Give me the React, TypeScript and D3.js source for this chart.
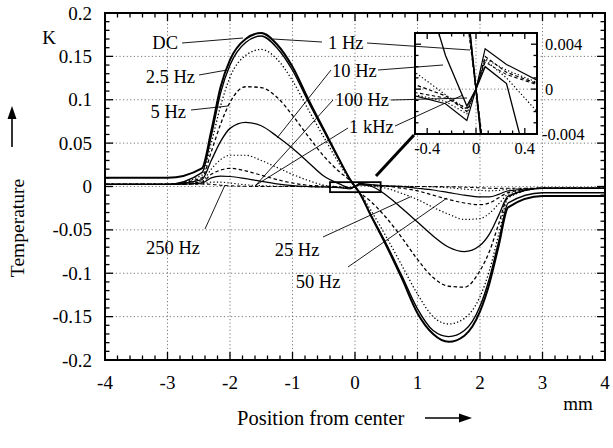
import React from 'react';
import * as d3 from 'd3';

// ---------- data ----------
const positions = [-4, -3, -2.45, -2.3, -2.15, -2, -1.75, -1.5, -1.25, -1, -0.75, -0.5, -0.25, -0.075, 0, 0.075, 0.25, 0.5, 0.75, 1, 1.25, 1.5, 1.75, 2, 2.15, 2.3, 2.45, 3, 4];

const tDC = [0.010, 0.010, 0.021, 0.064, 0.115, 0.146, 0.170, 0.177, 0.164, 0.138, 0.101, 0.066, 0.031, 0.0078, 0, -0.0078, -0.033, -0.068, -0.106, -0.146, -0.170, -0.179, -0.172, -0.144, -0.112, -0.068, -0.024, -0.011, -0.011];
const t1Hz = [0.0025, 0.0025, 0.016, 0.058, 0.108, 0.140, 0.166, 0.1735, 0.160, 0.134, 0.098, 0.064, 0.030, 0.0075, 0, -0.0075, -0.032, -0.066, -0.103, -0.141, -0.166, -0.173, -0.166, -0.138, -0.106, -0.063, -0.019, -0.0072, -0.0072];
const t2p5Hz = [0.0025, 0.0025, 0.013, 0.050, 0.093, 0.126, 0.151, 0.158, 0.147, 0.122, 0.089, 0.057, 0.026, 0.007, 0, -0.007, -0.027, -0.058, -0.091, -0.124, -0.150, -0.1585, -0.152, -0.127, -0.097, -0.055, -0.013, -0.002, -0.002];
const t5Hz = [0.0025, 0.0025, 0.010, 0.040, 0.072, 0.097, 0.115, 0.114, 0.103, 0.082, 0.058, 0.035, 0.017, 0.0065, 0, -0.0065, -0.017, -0.036, -0.059, -0.084, -0.105, -0.115, -0.116, -0.097, -0.075, -0.043, -0.012, -0.002, -0.002];
const t10Hz = [0.0025, 0.0025, 0.008, 0.030, 0.052, 0.067, 0.074, 0.070, 0.058, 0.044, 0.028, 0.012, 0.003, -0.0015, 0, 0.002, 0.0005, -0.010, -0.025, -0.041, -0.057, -0.070, -0.075, -0.068, -0.055, -0.033, -0.011, -0.002, -0.002];
const t25Hz = [0.0025, 0.0025, 0.006, 0.020, 0.031, 0.036, 0.036, 0.030, 0.022, 0.014, 0.007, 0.0015, -0.0005, -0.0018, 0, 0.0026, 0.001, -0.002, -0.008, -0.015, -0.024, -0.032, -0.038, -0.037, -0.031, -0.020, -0.009, -0.002, -0.002];
const t50Hz = [0.0025, 0.0025, 0.005, 0.014, 0.019, 0.021, 0.018, 0.013, 0.008, 0.004, 0.0015, 0.0004, -0.0006, -0.002, 0, 0.0029, 0.0015, 0.0005, -0.002, -0.005, -0.010, -0.015, -0.019, -0.021, -0.019, -0.013, -0.007, -0.002, -0.002];
const t100Hz = [0.0025, 0.0025, 0.004, 0.010, 0.012, 0.0115, 0.009, 0.006, 0.003, 0.001, 0, -0.0006, -0.0013, -0.0028, 0, 0.0036, 0.0022, 0.0008, -0.0002, -0.002, -0.004, -0.007, -0.010, -0.012, -0.012, -0.009, -0.005, -0.002, -0.002];
const t250Hz = [0.0025, 0.0025, 0.003, 0.005, 0.005, 0.004, 0.002, 0.001, 0.0003, 0, -0.0002, -0.0005, -0.0011, -0.0022, 0, 0.0027, 0.0017, 0.0006, 0.0002, 0, -0.0005, -0.0015, -0.003, -0.0045, -0.005, -0.0045, -0.003, -0.002, -0.002];
const t1kHz = [0.0025, 0.0025, 0.0028, 0.0025, 0.0015, 0.0008, 0.0003, 0.0001, 0, 0, -0.0001, -0.0003, -0.0008, -0.0017, 0, 0.0024, 0.0013, 0.0004, 0.0001, 0, -0.0001, -0.0003, -0.0008, -0.0015, -0.002, -0.0022, -0.002, -0.002, -0.002];

const seriesNames = ['DC', '1 Hz', '2.5 Hz', '5 Hz', '10 Hz', '25 Hz', '50 Hz', '100 Hz', '250 Hz', '1 kHz'];
const seriesValues = [tDC, t1Hz, t2p5Hz, t5Hz, t10Hz, t25Hz, t50Hz, t100Hz, t250Hz, t1kHz];

const xTickValues = [-4, -3, -2, -1, 0, 1, 2, 3, 4];
const xTickLabels = ['-4', '-3', '-2', '-1', '0', '1', '2', '3', '4'];
const yTickValues = [0.2, 0.15, 0.1, 0.05, 0, -0.05, -0.1, -0.15, -0.2];
const yTickLabels = ['0.2', '0.15', '0.1', '0.05', '0', '-0.05', '-0.1', '-0.15', '-0.2'];
const insetXTickValues = [-0.4, 0, 0.4];
const insetXTickLabels = ['-0.4', '0', '0.4'];
const insetYTickValues = [0.004, 0, -0.004];
const insetYTickLabels = ['0.004', '0', '-0.004'];

// ---------- styles / layout ----------
const styleFor = [
  { w: 2.0, dash: null },
  { w: 1.4, dash: null },
  { w: 1.3, dash: '1.3,2.2' },
  { w: 1.3, dash: '3.5,2.5' },
  { w: 1.3, dash: null },
  { w: 1.2, dash: '1.3,2.2' },
  { w: 1.2, dash: '3.5,2.5' },
  { w: 1.2, dash: null },
  { w: 1.1, dash: '1.3,2.2' },
  { w: 1.1, dash: '3.5,2.5' },
];

const W = 613, H = 448;
const M = { left: 105, right: 605, top: 13, bottom: 360 };
const INS = { left: 415, right: 537, top: 33, bottom: 134 };
const FONT = "'Liberation Serif', 'Times New Roman', 'DejaVu Serif', serif";

const annotations = [
  { text: 'DC', x: 178, y: 43, anchor: 'end', leaders: [[182, 43, 243, 38]] },
  { text: '1 Hz', x: 328, y: 43, anchor: 'start', leaders: [[322, 42, 273, 39], [367, 43, 470, 50]] },
  { text: '2.5 Hz', x: 195, y: 77, anchor: 'end', leaders: [[199, 75, 227, 70]] },
  { text: '5 Hz', x: 186, y: 112, anchor: 'end', leaders: [[191, 110, 228, 106]] },
  { text: '10 Hz', x: 332, y: 71, anchor: 'start', leaders: [[331, 70, 277, 138], [378, 70, 443, 65]] },
  { text: '100 Hz', x: 335, y: 100, anchor: 'start', leaders: [[333, 100, 256, 185], [391, 100, 467, 98]] },
  { text: '1 kHz', x: 349, y: 127, anchor: 'start', leaders: [[348, 128, 256, 185], [395, 126, 463, 95]] },
  { text: '250 Hz', x: 173, y: 248, anchor: 'middle', leaders: [[205, 229, 225, 185]] },
  { text: '25 Hz', x: 297, y: 250, anchor: 'middle', leaders: [[323, 237, 410, 197]] },
  { text: '50 Hz', x: 318, y: 282, anchor: 'middle', leaders: [[348, 267, 447, 198]] },
];

export default function App() {
  const x = d3.scaleLinear().domain([-4, 4]).range([M.left, M.right]);
  const y = d3.scaleLinear().domain([-0.2, 0.2]).range([M.bottom, M.top]);
  const xi = d3.scaleLinear().domain([-0.5, 0.5]).range([INS.left, INS.right]);
  const yi = d3.scaleLinear().domain([-0.004, 0.005]).range([INS.bottom, INS.top]);

  const mainLine = d3.line<[number, number]>().x(d => x(d[0])).y(d => y(d[1])).curve(d3.curveMonotoneX);
  const insetLine = d3.line<[number, number]>().x(d => xi(d[0])).y(d => yi(d[1]));

  const pts = (vals: number[]) => positions.map((p, i) => [p, vals[i]] as [number, number]);
  const order = [9, 8, 7, 6, 5, 4, 3, 2, 1, 0];

  const xMinor = d3.range(-4, 4.0001, 0.2);
  const yMinor = d3.range(-0.2, 0.20001, 0.01);
  const ixMinor = d3.range(-0.5, 0.50001, 0.1);
  const iyMinor = d3.range(-0.004, 0.005001, 0.001);
  const isMajor = (v: number, arr: number[], eps: number) => arr.some(a => Math.abs(a - v) < eps);

  const tickLines: any[] = [];
  xMinor.forEach((v, i) => {
    const L = isMajor(v, xTickValues, 1e-6) ? 8 : 4.5;
    const px = x(v);
    tickLines.push(<line key={'xb' + i} x1={px} x2={px} y1={M.bottom} y2={M.bottom - L} />);
    tickLines.push(<line key={'xt' + i} x1={px} x2={px} y1={M.top} y2={M.top + L} />);
  });
  yMinor.forEach((v, i) => {
    const L = isMajor(v, yTickValues, 1e-6) ? 8 : 4.5;
    const py = y(v);
    tickLines.push(<line key={'yl' + i} x1={M.left} x2={M.left + L} y1={py} y2={py} />);
    tickLines.push(<line key={'yr' + i} x1={M.right} x2={M.right - L} y1={py} y2={py} />);
  });
  const insetTicks: any[] = [];
  ixMinor.forEach((v, i) => {
    const L = isMajor(v, insetXTickValues, 1e-6) ? 6 : 3.5;
    const px = xi(v);
    insetTicks.push(<line key={'ixb' + i} x1={px} x2={px} y1={INS.bottom} y2={INS.bottom - L} />);
    insetTicks.push(<line key={'ixt' + i} x1={px} x2={px} y1={INS.top} y2={INS.top + L} />);
  });
  iyMinor.forEach((v, i) => {
    const L = isMajor(v, insetYTickValues, 1e-7) ? 6 : 3.5;
    const py = yi(v);
    insetTicks.push(<line key={'iyl' + i} x1={INS.left} x2={INS.left + L} y1={py} y2={py} />);
    insetTicks.push(<line key={'iyr' + i} x1={INS.right} x2={INS.right - L} y1={py} y2={py} />);
  });

  const textStyle = { fontFamily: FONT };

  return (
    <svg width={W} height={H} style={{ position: 'absolute', left: 0, top: 0, background: '#fff', fontFamily: FONT }}>
      <defs>
        <clipPath id="mainClip"><rect x={M.left} y={M.top} width={M.right - M.left} height={M.bottom - M.top} /></clipPath>
        <clipPath id="insetClip"><rect x={INS.left} y={INS.top} width={INS.right - INS.left} height={INS.bottom - INS.top} /></clipPath>
      </defs>
      <rect x={0} y={0} width={W} height={H} fill="#fff" />

      {/* grid */}
      <g stroke="#777" strokeWidth={1} strokeDasharray="1.2,2.4">
        {xTickValues.slice(1, -1).map(v => <line key={'gx' + v} x1={x(v)} x2={x(v)} y1={M.top} y2={M.bottom} />)}
        {yTickValues.slice(1, -1).map(v => <line key={'gy' + v} x1={M.left} x2={M.right} y1={y(v)} y2={y(v)} />)}
      </g>

      {/* curves */}
      <g clipPath="url(#mainClip)" fill="none" stroke="#000">
        {order.map(k => (
          <path key={'c' + k} d={mainLine(pts(seriesValues[k])) || ''} strokeWidth={styleFor[k].w}
            strokeDasharray={styleFor[k].dash || undefined} />
        ))}
      </g>

      {/* zoom box and connector */}
      <rect x={x(-0.4)} y={y(0.005)} width={x(0.41) - x(-0.4)} height={y(-0.0065) - y(0.005)} fill="none" stroke="#000" strokeWidth={1.8} />
      <line x1={376} y1={176} x2={INS.left - 1} y2={INS.bottom + 1} stroke="#000" strokeWidth={3} />

      {/* axes frame & ticks */}
      <g stroke="#000" strokeWidth={1.3}>{tickLines}</g>
      <rect x={M.left} y={M.top} width={M.right - M.left} height={M.bottom - M.top} fill="none" stroke="#000" strokeWidth={2} />

      {/* inset */}
      <rect x={INS.left} y={INS.top} width={INS.right - INS.left} height={INS.bottom - INS.top} fill="#fff" />
      <g stroke="#777" strokeWidth={1} strokeDasharray="1.2,2.4">
        <line x1={xi(0)} x2={xi(0)} y1={INS.top} y2={INS.bottom} />
        <line x1={INS.left} x2={INS.right} y1={yi(0)} y2={yi(0)} />
      </g>
      <g clipPath="url(#insetClip)" fill="none" stroke="#000">
        {order.map(k => (
          <path key={'ic' + k} d={insetLine(pts(seriesValues[k])) || ''} strokeWidth={k < 2 ? 1.5 : styleFor[k].w}
            strokeDasharray={styleFor[k].dash || undefined} />
        ))}
      </g>

      {/* annotations */}
      <g stroke="#000" strokeWidth={0.9}>
        {annotations.flatMap((a, i) => a.leaders.map((l, j) => (
          <line key={'ld' + i + '-' + j} x1={l[0]} y1={l[1]} x2={l[2]} y2={l[3]} />
        )))}
      </g>
      <g stroke="#000" strokeWidth={1.3}>{insetTicks}</g>
      <rect x={INS.left} y={INS.top} width={INS.right - INS.left} height={INS.bottom - INS.top} fill="none" stroke="#000" strokeWidth={2} />

      <g fontSize={18.5} fill="#000" style={textStyle}>
        {annotations.map((a, i) => (
          <text key={'at' + i} x={a.x} y={a.y} textAnchor={a.anchor as any} dominantBaseline="central" style={textStyle}>{a.text}</text>
        ))}
      </g>

      {/* inset tick labels */}
      <g fontSize={16.5} fill="#000" style={textStyle}>
        {insetXTickValues.map((v, i) => (
          <text key={'ixl' + i} x={xi(v)} y={INS.bottom + 14} textAnchor="middle" dominantBaseline="central" style={textStyle}>{insetXTickLabels[i]}</text>
        ))}
        {insetYTickValues.map((v, i) => (
          <text key={'iyl' + i} x={INS.right + (v < 0 ? 5 : 8)} y={yi(v)} textAnchor="start" dominantBaseline="central" style={textStyle}>{insetYTickLabels[i]}</text>
        ))}
      </g>

      {/* main tick labels */}
      <g fontSize={19} fill="#000" style={textStyle}>
        {xTickValues.map((v, i) => (
          <text key={'xl' + i} x={x(v)} y={M.bottom + 22} textAnchor="middle" dominantBaseline="central" style={textStyle}>{xTickLabels[i]}</text>
        ))}
        {yTickValues.map((v, i) => (
          <text key={'yl' + i} x={M.left - 13} y={y(v)} textAnchor="end" dominantBaseline="central" style={textStyle}>{yTickLabels[i]}</text>
        ))}
        <text x={49} y={37} textAnchor="middle" dominantBaseline="central" style={textStyle}>K</text>
        <text x={578} y={403} textAnchor="middle" dominantBaseline="central" style={textStyle}>mm</text>
        <text x={237} y={418} textAnchor="start" dominantBaseline="central" style={{ fontFamily: FONT, fontSize: 20.5 }}>Position from center</text>
        <text transform="translate(17,228) rotate(-90)" textAnchor="middle" dominantBaseline="central" style={{ fontFamily: FONT, fontSize: 19.5 }}>Temperature</text>
      </g>

      {/* axis arrows */}
      <g stroke="#000" strokeWidth={1.6} fill="#000">
        <line x1={425} y1={418} x2={462} y2={418} />
        <path d="M 472 418 L 459 413.5 L 459 422.5 Z" stroke="none" />
        <line x1={12} y1={147} x2={12} y2={117} />
        <path d="M 12 106 L 7.5 119 L 16.5 119 Z" stroke="none" />
      </g>
    </svg>
  );
}
